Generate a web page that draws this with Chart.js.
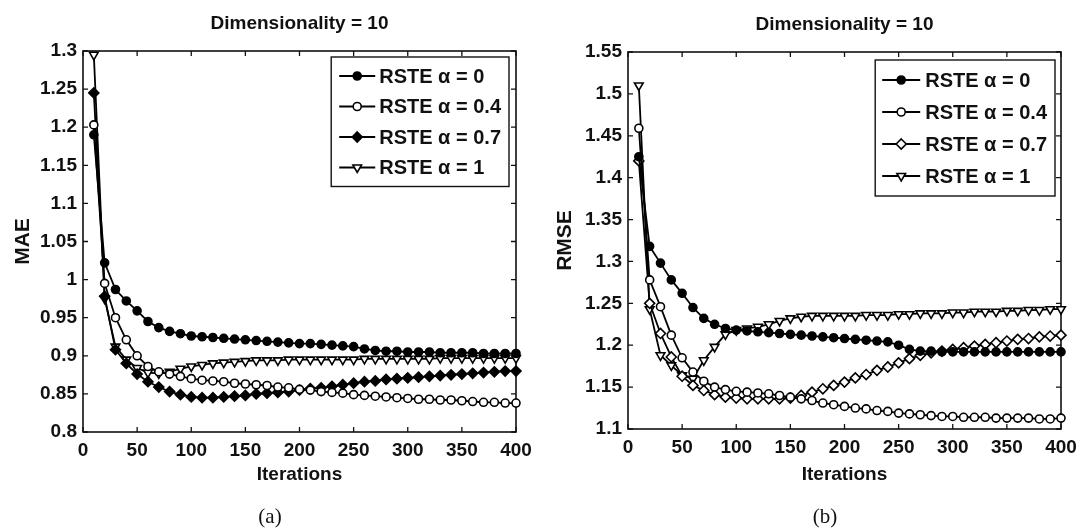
<!DOCTYPE html>
<html>
<head>
<meta charset="utf-8">
<title>RSTE - MAE / RMSE vs iterations</title>
<script src="https://cdn.jsdelivr.net/npm/chart.js@4.4.1/dist/chart.umd.min.js"></script>
<style>
  html, body { margin: 0; padding: 0; background: #fff; overflow: hidden; }
  body { width: 1078px; height: 528px; position: relative; }
  .panel { position: absolute; top: 0; height: 528px; }
  #panelA { left: 0; width: 540px; }
  #panelB { left: 545px; width: 560px; }
</style>
</head>
<body>
<div class="panel" id="panelA"><canvas id="maeChart" width="540" height="528"></canvas></div>
<div class="panel" id="panelB"><canvas id="rmseChart" width="560" height="528"></canvas></div>
<script>
// x values (iterations), one point every 10 iterations
const iterations = [10, 20, 30, 40, 50, 60, 70, 80, 90, 100,
    110, 120, 130, 140, 150, 160, 170, 180, 190, 200,
    210, 220, 230, 240, 250, 260, 270, 280, 290, 300,
    310, 320, 330, 340, 350, 360, 370, 380, 390, 400];

const seriesLabels = ['RSTE α = 0', 'RSTE α = 0.4', 'RSTE α = 0.7', 'RSTE α = 1'];

// (a) MAE
const maeAlpha0 = [1.190, 1.022, 0.987, 0.972, 0.959, 0.945, 0.937, 0.932, 0.929, 0.926,
    0.925, 0.924, 0.923, 0.922, 0.921, 0.920, 0.919, 0.918, 0.917, 0.916,
    0.916, 0.915, 0.914, 0.913, 0.912, 0.909, 0.907, 0.906, 0.906, 0.905,
    0.905, 0.905, 0.904, 0.904, 0.904, 0.904, 0.903, 0.903, 0.903, 0.903];
const maeAlpha04 = [1.203, 0.995, 0.950, 0.921, 0.900, 0.886, 0.879, 0.876, 0.873, 0.870,
    0.868, 0.867, 0.866, 0.864, 0.863, 0.862, 0.861, 0.859, 0.858, 0.856,
    0.855, 0.853, 0.852, 0.851, 0.849, 0.848, 0.847, 0.846, 0.845, 0.844,
    0.843, 0.843, 0.842, 0.842, 0.841, 0.840, 0.839, 0.839, 0.838, 0.838];
const maeAlpha07 = [1.245, 0.978, 0.908, 0.890, 0.876, 0.866, 0.859, 0.853, 0.849, 0.846,
    0.845, 0.845, 0.846, 0.847, 0.848, 0.850, 0.851, 0.852, 0.853, 0.855,
    0.857, 0.858, 0.860, 0.862, 0.864, 0.866, 0.867, 0.869, 0.870, 0.871,
    0.872, 0.873, 0.874, 0.875, 0.876, 0.877, 0.878, 0.879, 0.880, 0.880];
const maeAlpha1 = [1.295, 0.975, 0.912, 0.895, 0.884, 0.878, 0.877, 0.879, 0.883, 0.886,
    0.888, 0.890, 0.891, 0.892, 0.893, 0.894, 0.894, 0.894, 0.895, 0.895,
    0.895, 0.895, 0.895, 0.895, 0.895, 0.896, 0.896, 0.896, 0.896, 0.896,
    0.896, 0.896, 0.897, 0.897, 0.897, 0.897, 0.897, 0.897, 0.897, 0.897];

// (b) RMSE
const rmseAlpha0 = [1.425, 1.318, 1.298, 1.278, 1.262, 1.245, 1.232, 1.225, 1.220, 1.218,
    1.217, 1.216, 1.215, 1.214, 1.213, 1.212, 1.211, 1.210, 1.209, 1.208,
    1.207, 1.206, 1.205, 1.204, 1.200, 1.195, 1.193, 1.193, 1.192, 1.192,
    1.192, 1.192, 1.192, 1.192, 1.192, 1.192, 1.192, 1.192, 1.192, 1.192];
const rmseAlpha04 = [1.459, 1.278, 1.246, 1.212, 1.185, 1.168, 1.157, 1.150, 1.147, 1.145,
    1.144, 1.143, 1.142, 1.140, 1.138, 1.136, 1.134, 1.131, 1.129, 1.127,
    1.125, 1.124, 1.122, 1.121, 1.119, 1.118, 1.117, 1.116, 1.115, 1.115,
    1.114, 1.114, 1.114, 1.113, 1.113, 1.113, 1.113, 1.112, 1.112, 1.113];
const rmseAlpha07 = [1.420, 1.250, 1.214, 1.186, 1.163, 1.152, 1.146, 1.141, 1.138, 1.137,
    1.136, 1.136, 1.136, 1.136, 1.137, 1.140, 1.144, 1.148, 1.152, 1.156,
    1.161, 1.165, 1.170, 1.174, 1.179, 1.184, 1.188, 1.191, 1.193, 1.195,
    1.197, 1.199, 1.201, 1.203, 1.205, 1.207, 1.208, 1.210, 1.211, 1.212];
const rmseAlpha1 = [1.510, 1.243, 1.188, 1.176, 1.164, 1.160, 1.182, 1.198, 1.213, 1.218,
    1.220, 1.222, 1.225, 1.229, 1.232, 1.234, 1.235, 1.235, 1.235, 1.235,
    1.235, 1.236, 1.236, 1.236, 1.237, 1.237, 1.238, 1.238, 1.238, 1.239,
    1.239, 1.240, 1.240, 1.240, 1.241, 1.241, 1.242, 1.242, 1.243, 1.243];

const SANS = "'Liberation Sans', Arial, Helvetica, sans-serif";
const SERIF = "'Liberation Serif', 'DejaVu Serif', serif";
const INK = '#111';

// matlab style marker for each series
function markerStyles(diamondFill) {
    return [
        { pointStyle: 'circle', radius: 4, fill: '#000', rotation: 0 },
        { pointStyle: 'circle', radius: 4, fill: '#fff', rotation: 0 },
        { pointStyle: 'rectRot', radius: 5, fill: diamondFill, rotation: 0 },
        { pointStyle: 'triangle', radius: 5, fill: '#fff', rotation: 180 }
    ];
}

function buildDatasets(seriesList, diamondFill) {
    const styles = markerStyles(diamondFill);
    return seriesList.map((values, i) => ({
        label: seriesLabels[i],
        data: values.map((v, j) => ({ x: iterations[j], y: v })),
        borderColor: '#000',
        borderWidth: 1.8,
        pointStyle: styles[i].pointStyle,
        pointRadius: styles[i].radius,
        pointRotation: styles[i].rotation,
        pointBackgroundColor: styles[i].fill,
        pointBorderColor: '#000',
        pointBorderWidth: 1.6,
        tension: 0,
        clip: false
    }));
}

// box round the plot + inward ticks on all four sides
const frameTicks = {
    id: 'frameTicks',
    beforeDatasetsDraw(chart) {
        const { ctx, chartArea: a, scales } = chart;
        ctx.save();
        ctx.strokeStyle = INK;
        ctx.lineWidth = 1.6;
        ctx.strokeRect(a.left, a.top, a.right - a.left, a.bottom - a.top);
        ctx.lineWidth = 1.3;
        ctx.beginPath();
        scales.x.ticks.forEach(t => {
            const px = scales.x.getPixelForValue(t.value);
            ctx.moveTo(px, a.bottom); ctx.lineTo(px, a.bottom - 5);
            ctx.moveTo(px, a.top); ctx.lineTo(px, a.top + 5);
        });
        scales.y.ticks.forEach(t => {
            const py = scales.y.getPixelForValue(t.value);
            ctx.moveTo(a.left, py); ctx.lineTo(a.left + 5, py);
            ctx.moveTo(a.right, py); ctx.lineTo(a.right - 5, py);
        });
        ctx.stroke();
        ctx.restore();
    }
};

function drawMarker(ctx, ds, x, y) {
    const r = ds.pointRadius;
    ctx.beginPath();
    if (ds.pointStyle === 'circle') {
        ctx.arc(x, y, r, 0, Math.PI * 2);
    } else if (ds.pointStyle === 'rectRot') {
        ctx.moveTo(x, y - r); ctx.lineTo(x + r, y); ctx.lineTo(x, y + r); ctx.lineTo(x - r, y);
        ctx.closePath();
    } else {
        ctx.moveTo(x - r * 0.866, y - r * 0.5); ctx.lineTo(x + r * 0.866, y - r * 0.5); ctx.lineTo(x, y + r);
        ctx.closePath();
    }
    ctx.fillStyle = ds.pointBackgroundColor;
    ctx.fill();
    ctx.lineWidth = ds.pointBorderWidth;
    ctx.strokeStyle = '#000';
    ctx.stroke();
}

// legend drawn inside the plot, top right, like matlab
const boxLegend = {
    id: 'boxLegend',
    afterDraw(chart, args, opts) {
        const { ctx, chartArea: a } = chart;
        const datasets = chart.data.datasets;
        ctx.save();
        ctx.font = `bold ${opts.fontSize}px ${SANS}`;
        const textW = Math.max(...datasets.map(d => ctx.measureText(d.label).width));
        const boxW = opts.padLeft + opts.lineLen + opts.gap + textW + opts.padRight;
        const boxH = opts.firstRow * 2 + opts.rowH * (datasets.length - 1);
        const right = a.right - opts.right;
        const left = right - boxW;
        const top = a.top + opts.top;
        ctx.fillStyle = '#fff';
        ctx.fillRect(left, top, boxW, boxH);
        ctx.strokeStyle = INK;
        ctx.lineWidth = 1.4;
        ctx.strokeRect(left, top, boxW, boxH);
        datasets.forEach((ds, i) => {
            const y = top + opts.firstRow + i * opts.rowH;
            const x0 = left + opts.padLeft;
            ctx.strokeStyle = '#000';
            ctx.lineWidth = 1.8;
            ctx.beginPath();
            ctx.moveTo(x0, y); ctx.lineTo(x0 + opts.lineLen, y);
            ctx.stroke();
            drawMarker(ctx, ds, x0 + opts.lineLen / 2, y);
            ctx.fillStyle = INK;
            ctx.textAlign = 'left';
            ctx.textBaseline = 'middle';
            ctx.fillText(ds.label, x0 + opts.lineLen + opts.gap, y + 1);
        });
        ctx.restore();
    }
};

function tickLabel(v) {
    return String(parseFloat(v.toFixed(2)));
}

function makeChart(canvasId, cfg) {
    return new Chart(document.getElementById(canvasId), {
        type: 'line',
        data: { datasets: buildDatasets(cfg.series, cfg.diamondFill) },
        options: {
            responsive: false,
            animation: false,
            events: [],
            layout: { padding: 0 },
            plugins: {
                legend: { display: false },
                tooltip: { enabled: false },
                title: {
                    display: true,
                    text: 'Dimensionality = 10',
                    fullSize: false,
                    color: INK,
                    font: { family: SANS, size: 19, weight: 'bold' },
                    padding: { top: cfg.titleTop, bottom: cfg.titleBottom }
                },
                subtitle: {
                    display: true,
                    text: cfg.caption,
                    position: 'bottom',
                    color: INK,
                    font: { family: SERIF, size: 21, lineHeight: 1 },
                    padding: { top: 0, bottom: 0 }
                },
                boxLegend: cfg.legend
            },
            scales: {
                x: {
                    type: 'linear',
                    min: 0,
                    max: 400,
                    border: { display: false },
                    grid: { display: false, drawTicks: false },
                    ticks: {
                        stepSize: 50,
                        padding: 7,
                        maxRotation: 0,
                        autoSkip: false,
                        color: INK,
                        font: { family: SANS, size: 19, weight: 'bold' }
                    },
                    title: {
                        display: true,
                        text: 'Iterations',
                        color: INK,
                        font: { family: SANS, size: 19, weight: 'bold' },
                        padding: { top: 0, bottom: 21 }
                    },
                    afterFit: s => { s.height = cfg.xAxisHeight; }
                },
                y: {
                    type: 'linear',
                    min: cfg.yMin,
                    max: cfg.yMax,
                    border: { display: false },
                    grid: { display: false, drawTicks: false },
                    ticks: {
                        stepSize: 0.05,
                        padding: 6,
                        autoSkip: false,
                        color: INK,
                        font: { family: SANS, size: 19, weight: 'bold' },
                        callback: tickLabel
                    },
                    title: {
                        display: true,
                        text: cfg.yTitle,
                        color: INK,
                        font: { family: SANS, size: 21, weight: 'bold' },
                        padding: { top: cfg.yTitlePad, bottom: 0 }
                    },
                    afterFit: s => { s.width = 83; }
                },
                // empty right axis, only keeps the gap on the right side
                yRight: {
                    type: 'linear',
                    position: 'right',
                    display: true,
                    border: { display: false },
                    grid: { display: false, drawTicks: false },
                    ticks: { display: false },
                    afterFit: s => { s.width = cfg.rightGap; }
                }
            }
        },
        plugins: [frameTicks, boxLegend]
    });
}

makeChart('maeChart', {
    series: [maeAlpha0, maeAlpha04, maeAlpha07, maeAlpha1],
    diamondFill: '#000',
    caption: '(a)',
    yTitle: 'MAE',
    yMin: 0.8,
    yMax: 1.3,
    titleTop: 12,
    titleBottom: 16.2,
    yTitlePad: 11,
    xAxisHeight: 75,
    rightGap: 24,
    legend: { right: 7, top: 6, firstRow: 19, rowH: 30.5, padLeft: 8, lineLen: 36, gap: 4, padRight: 8, fontSize: 20 }
});

makeChart('rmseChart', {
    series: [rmseAlpha0, rmseAlpha04, rmseAlpha07, rmseAlpha1],
    diamondFill: '#fff',
    caption: '(b)',
    yTitle: 'RMSE',
    yMin: 1.1,
    yMax: 1.55,
    titleTop: 13.6,
    titleBottom: 15.6,
    yTitlePad: 7.4,
    xAxisHeight: 78,
    rightGap: 44,
    legend: { right: 6, top: 8, firstRow: 20, rowH: 32, padLeft: 7, lineLen: 38, gap: 5, padRight: 8, fontSize: 20 }
});
</script>
</body>
</html>
